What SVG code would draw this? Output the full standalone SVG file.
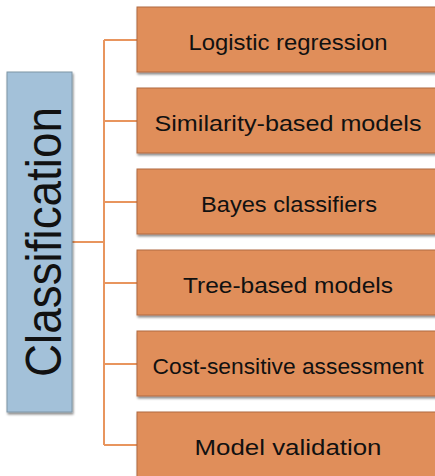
<svg xmlns="http://www.w3.org/2000/svg" width="435" height="476" viewBox="0 0 435 476">
<style>
.leaf{fill:#E08E5A;stroke:#B06A40;stroke-width:1}
.lt{font-family:"Liberation Sans",Arial,sans-serif;font-size:22px;fill:#111;text-anchor:middle}
.root{fill:#A3C1D9;stroke:#7F95A6;stroke-width:1}
.rt{font-family:"Liberation Sans",Arial,sans-serif;font-size:50px;fill:#111;text-anchor:middle}
.conn{stroke:#E8955E;stroke-width:2;fill:none}
</style>
<defs>
<filter id="sh" x="-10%" y="-10%" width="130%" height="130%">
<feDropShadow dx="1" dy="2" stdDeviation="1.2" flood-color="#000" flood-opacity="0.45"/>
</filter>
</defs>
<rect width="435" height="476" fill="#fff"/>
<g id="connectors">
<path class="conn" d="M72 242H104M104 40V445M104 40H137M104 121H137M104 202H137M104 283H137M104 364H137M104 445H137"/>
</g>
<g id="root">
<rect class="root" x="7" y="72" width="65" height="340" filter="url(#sh)"/>
<text class="rt" transform="translate(61 242) rotate(-90)" x="0" y="0" textLength="270" lengthAdjust="spacingAndGlyphs">Classification</text>
</g>
<g id="n1">
<rect class="leaf" x="137" y="7" width="302" height="65" filter="url(#sh)"/>
<text class="lt" x="288" y="50" textLength="199" lengthAdjust="spacingAndGlyphs">Logistic regression</text>
</g>
<g id="n2">
<rect class="leaf" x="137" y="88" width="302" height="65" filter="url(#sh)"/>
<text class="lt" x="288" y="131" textLength="267" lengthAdjust="spacingAndGlyphs">Similarity-based models</text>
</g>
<g id="n3">
<rect class="leaf" x="137" y="169" width="302" height="65" filter="url(#sh)"/>
<text class="lt" x="289" y="212" textLength="176" lengthAdjust="spacingAndGlyphs">Bayes classifiers</text>
</g>
<g id="n4">
<rect class="leaf" x="137" y="250" width="302" height="65" filter="url(#sh)"/>
<text class="lt" x="288" y="293" textLength="210" lengthAdjust="spacingAndGlyphs">Tree-based models</text>
</g>
<g id="n5">
<rect class="leaf" x="137" y="331" width="302" height="65" filter="url(#sh)"/>
<text class="lt" x="288" y="374" textLength="271" lengthAdjust="spacingAndGlyphs">Cost-sensitive assessment</text>
</g>
<g id="n6">
<rect class="leaf" x="137" y="412" width="302" height="65" filter="url(#sh)"/>
<text class="lt" x="288" y="455" textLength="187" lengthAdjust="spacingAndGlyphs">Model validation</text>
</g>
</svg>
